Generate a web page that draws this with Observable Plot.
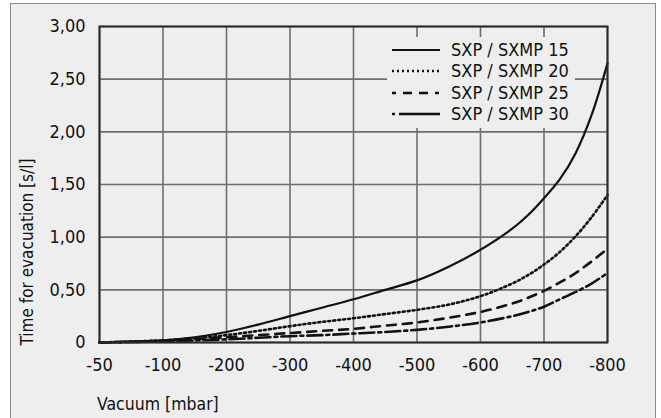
<!DOCTYPE html>
<html>
<head>
<meta charset="utf-8">
<script src="https://cdn.jsdelivr.net/npm/d3@7"></script>
<script src="https://cdn.jsdelivr.net/npm/@observablehq/plot@0.6"></script>
<style>
  html, body { margin: 0; padding: 0; background: #ffffff; }
  body { width: 661px; height: 418px; overflow: hidden; position: relative;
         font-family: "DejaVu Sans Condensed", "DejaVu Sans", sans-serif; color: #111; }
  #panel { position: absolute; left: 10px; top: 3px; width: 644px; height: 420px;
           background: #eeeeee; border: 1px solid #8c8c8c; box-sizing: content-box; }
  #chart { position: absolute; left: 0; top: 0; }
  .ytitle { position: absolute; left: 16px; top: 248px; transform: translate(-50%, -50%) rotate(-90deg);
            white-space: nowrap; font-size: 17px; line-height: 1; }
  .xtitle { position: absolute; left: 86px; top: 401px; transform: translateY(-50%);
            white-space: nowrap; font-size: 17.5px; line-height: 1; }
  #legend { position: absolute; left: 376px; top: 33px; width: 188px; height: 91px; background: #eeeeee; }
</style>
</head>
<body>
<div id="panel">
  <div id="chart"></div>
  <div id="legend"></div>
  <div class="ytitle">Time for evacuation [s/l]</div>
  <div class="xtitle">Vacuum [mbar]</div>
</div>
<script>
// ---- data ----
const categories = ["-50", "-100", "-200", "-300", "-400", "-500", "-600", "-700", "-800"];
const pressure = [-50, -100, -150, -200, -250, -300, -350, -400, -450, -500, -550, -600, -650, -675, -700, -725, -750, -775, -800];
const seriesNames = ["SXP / SXMP 15", "SXP / SXMP 20", "SXP / SXMP 25", "SXP / SXMP 30"];
const sxmp15 = [0.00, 0.02, 0.05, 0.10, 0.17, 0.25, 0.33, 0.41, 0.50, 0.59, 0.72, 0.88, 1.08, 1.21, 1.37, 1.55, 1.80, 2.16, 2.65];
const sxmp20 = [0.00, 0.02, 0.04, 0.07, 0.11, 0.155, 0.195, 0.23, 0.27, 0.31, 0.36, 0.44, 0.56, 0.64, 0.74, 0.86, 1.01, 1.19, 1.40];
const sxmp25 = [0.00, 0.015, 0.03, 0.05, 0.07, 0.09, 0.11, 0.13, 0.16, 0.19, 0.235, 0.29, 0.37, 0.425, 0.49, 0.57, 0.66, 0.77, 0.89];
const sxmp30 = [0.00, 0.01, 0.02, 0.03, 0.045, 0.06, 0.07, 0.085, 0.10, 0.12, 0.15, 0.19, 0.25, 0.29, 0.34, 0.41, 0.48, 0.56, 0.66];
const yTicks = [0, 0.5, 1, 1.5, 2, 2.5, 3];

const seriesValues = [sxmp15, sxmp20, sxmp25, sxmp30];
const dashes = [null, "2,3", "9,7", "15,4,3,4"];
const widths = [2.2, 2.6, 2.6, 2.6];

// the x axis is not linear: -50..-100 takes one step, then 100 mbar per step
const pos = p => { const a = -p; return a <= 100 ? (a - 50) / 50 : 1 + (a - 100) / 100; };

const rows = seriesNames.map((name, s) =>
  pressure.map((p, i) => ({series: name, x: pos(p), y: seriesValues[s][i]})));

const yFmt = v => v === 0 ? "0" : v.toFixed(2).replace(".", ",");

const FONT = '"DejaVu Sans Condensed", "DejaVu Sans", sans-serif';

const chart = Plot.plot({
  width: 643,
  height: 414,
  marginLeft: 88,
  marginTop: 22,
  marginRight: 47,
  marginBottom: 76,
  style: {background: "transparent", fontFamily: FONT, fontSize: "18px", color: "#111"},
  x: {domain: [0, categories.length - 1]},
  y: {domain: [0, 3]},
  marks: [
    Plot.gridX(d3.range(categories.length), {stroke: "#6e6e6e", strokeOpacity: 1, strokeWidth: 1.6}),
    Plot.gridY(yTicks, {stroke: "#6e6e6e", strokeOpacity: 1, strokeWidth: 1.6}),
    Plot.axisX(d3.range(categories.length), {tickSize: 0, tickPadding: 16, tickFormat: i => categories[i], label: null, fontSize: 18}),
    Plot.axisY(yTicks, {tickSize: 0, tickPadding: 14, tickFormat: yFmt, label: null, fontSize: 18}),
    ...rows.map((data, s) => Plot.line(data, {
      x: "x", y: "y", curve: "catmull-rom", stroke: "#111", strokeWidth: widths[s],
      strokeDasharray: dashes[s] || undefined
    })),
    Plot.frame({stroke: "#2a2a2a", strokeWidth: 2})
  ]
});
document.getElementById("chart").appendChild(chart);

// ---- legend ----
const lg = d3.select("#legend").append("svg").attr("width", 188).attr("height", 91)
  .style("position", "absolute").style("left", 0).style("top", 0);
const rowY = [13, 34, 56, 77];
seriesNames.forEach((name, s) => {
  const g = lg.append("g").attr("transform", `translate(0,${rowY[s]})`);
  g.append("line").attr("x1", 5).attr("x2", 53).attr("y1", 0).attr("y2", 0)
    .attr("stroke", "#111").attr("stroke-width", widths[s])
    .attr("stroke-dasharray", s === 3 ? "3,4,41" : s === 2 ? "4,7,9,7,9,7" : dashes[s]);
  g.append("text").attr("x", 64).attr("y", 0).attr("dy", "0.35em")
    .attr("font-family", FONT).attr("font-size", 18).attr("fill", "#111").text(name);
});
</script>
</body>
</html>
